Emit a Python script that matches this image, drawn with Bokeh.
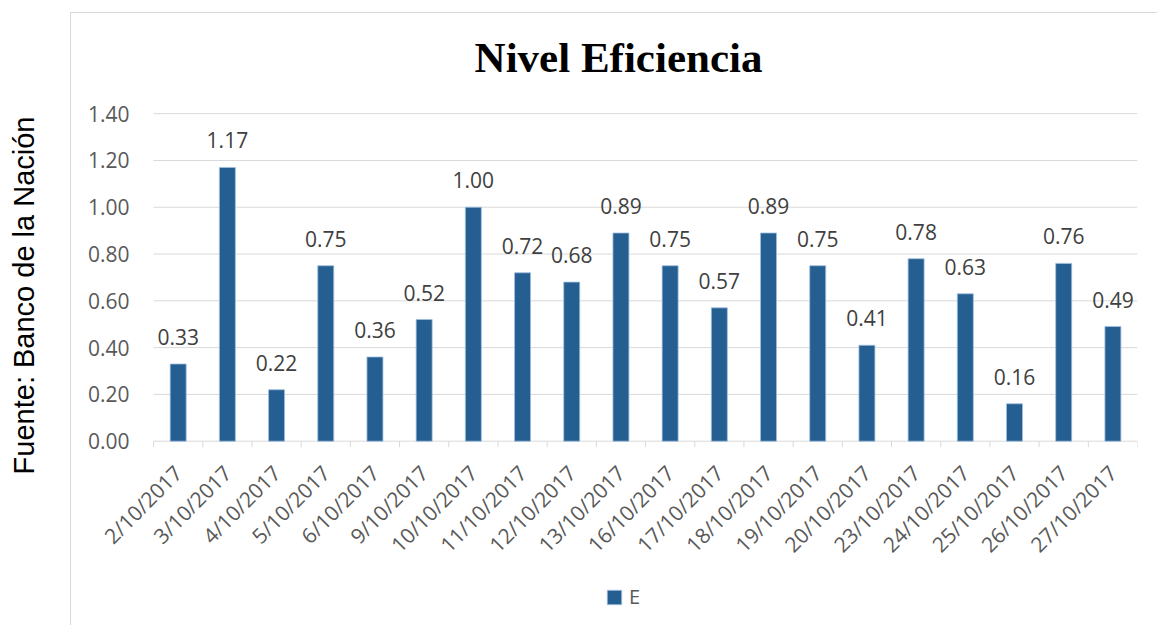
import math
from bokeh.plotting import figure
from bokeh.models import (ColumnDataSource, Label, Legend, LegendItem, Range1d, Title)
from bokeh.layouts import row
from bokeh.embed import file_html
from bokeh.resources import INLINE

# ---- data ----
fechas = ["2/10/2017", "3/10/2017", "4/10/2017", "5/10/2017", "6/10/2017",
          "9/10/2017", "10/10/2017", "11/10/2017", "12/10/2017", "13/10/2017",
          "16/10/2017", "17/10/2017", "18/10/2017", "19/10/2017", "20/10/2017",
          "23/10/2017", "24/10/2017", "25/10/2017", "26/10/2017", "27/10/2017"]
eficiencia = [0.33, 1.17, 0.22, 0.75, 0.36, 0.52, 1.00, 0.72, 0.68, 0.89,
              0.75, 0.57, 0.89, 0.75, 0.41, 0.78, 0.63, 0.16, 0.76, 0.49]
y_ticks = [0.0, 0.2, 0.4, 0.6, 0.8, 1.0, 1.2, 1.4]
serie = "E"
titulo = "Nivel Eficiencia"
fuente = "Fuente: Banco de la Nación"

n = len(fechas)
centers = [i + 0.5 for i in range(n)]
bounds = list(range(n + 1))

GRID = "#d9d9d9"
BLUE = "#255E91"
FONT = "Open Sans"

# layout geometry (pixels inside the main figure)
PLOT_H = 327          # height of the 0.00 .. 1.40 band
TITLE_SPACE = 100     # space above the band holding the title
BELOW_SPACE = 185     # space under the band holding dates and key
BAND_W = 983          # width of the 20 categories
LEFT_SPACE = 82       # space left of the band holding the value scale
TICK_LEN = 6
px_per_unit = PLOT_H / y_ticks[-1]
px_per_cat = BAND_W / n
y_top = (PLOT_H + TITLE_SPACE) / px_per_unit
y_bottom = -BELOW_SPACE / px_per_unit
x_left = -LEFT_SPACE / px_per_cat

src = ColumnDataSource(dict(x=centers, top=eficiencia, base=[0.0] * n,
                            lab=[f"{v:.2f}" for v in eficiencia], fecha=fechas))
tick_src = ColumnDataSource(dict(x=bounds, y0=[0.0] * len(bounds),
                                 y1=[-TICK_LEN / px_per_unit] * len(bounds)))
grid_src = ColumnDataSource(dict(y=y_ticks, x0=[0.0] * len(y_ticks),
                                 x1=[float(n)] * len(y_ticks),
                                 lab=[f"{t:.2f}" for t in y_ticks]))

p = figure(frame_width=LEFT_SPACE + BAND_W,
           frame_height=PLOT_H + TITLE_SPACE + BELOW_SPACE,
           min_border_left=0, min_border_right=21,
           min_border_top=0, min_border_bottom=0,
           x_range=Range1d(x_left, n), y_range=Range1d(y_bottom, y_top),
           x_axis_location=None, y_axis_location=None, title=None,
           output_backend="svg", toolbar_location=None,
           background_fill_color="white", border_fill_color="white")
p.outline_line_color = None
p.grid.visible = False

# value scale: gridlines and their labels
p.segment(x0="x0", y0="y", x1="x1", y1="y", source=grid_src,
          line_color=GRID, line_width=1)
p.text(x="x0", y="y", text="lab", source=grid_src, text_align="right",
       text_baseline="middle", x_offset=-24, text_font={"value": FONT},
       text_font_size={"value": "21px"}, text_color="#595959")

r = p.vbar(x="x", top="top", width=0.325, source=src,
           fill_color=BLUE, line_color="#9fbfdf", line_width=0.8)
p.text(x="x", y="top", text="lab", source=src, text_align="center",
       text_baseline="alphabetic", y_offset=-27, text_font={"value": FONT},
       text_font_size={"value": "21px"}, text_color="#404040")

# category boundary ticks and date labels under the 0.00 line
p.segment(x0="x", y0="y0", x1="x", y1="y1", source=tick_src,
          line_color=GRID, line_width=1)
p.text(x="x", y="base", text="fecha", source=src, angle=math.pi / 4,
       text_align="right", text_baseline="middle", y_offset=28,
       text_font={"value": FONT}, text_font_size={"value": "21px"},
       text_color="#595959")

# title (inside the upper, empty part of the frame)
title_x = (617.5 - 153) / px_per_cat
title_y = 383 / px_per_unit
p.add_layout(Label(x=title_x, y=title_y, text=titulo,
                   text_font="Liberation Serif", text_font_style="bold",
                   text_font_size="43px", text_align="center",
                   text_baseline="alphabetic", text_color="black"))

# series key (inside the lower part of the frame)
legend = Legend(items=[LegendItem(label=serie, renderers=[r])],
                location=(534, 16), orientation="horizontal",
                border_line_color=None, background_fill_alpha=0,
                padding=0, margin=0, glyph_width=18, glyph_height=18,
                label_standoff=6, label_text_font=FONT,
                label_text_font_size="20px", label_text_color="#595959")
p.add_layout(legend)

p.styles = {"border-left": "1px solid #d9d9d9", "border-top": "1px solid #d9d9d9"}
p.margin = (12, 0, 0, 0)

# left figure carrying the source text as a vertical title
lf = figure(width=70, height=625, min_border_top=0, min_border_bottom=0,
            min_border_left=40, min_border_right=0,
            x_range=Range1d(0, 1), y_range=Range1d(0, 1), title=None,
            output_backend="svg", toolbar_location=None,
            x_axis_location=None, y_axis_location=None,
            background_fill_color="white", border_fill_color="white")
lf.outline_line_color = None
lf.grid.visible = False
lf.add_layout(Title(text=fuente, align="right", offset=116, vertical_align="bottom",
                    standoff=2, text_font="Liberation Sans", text_font_style="normal",
                    text_font_size="29px", text_color="black"), "left")

layout = row(lf, p)
open("out.html", "w").write(file_html(layout, INLINE))
